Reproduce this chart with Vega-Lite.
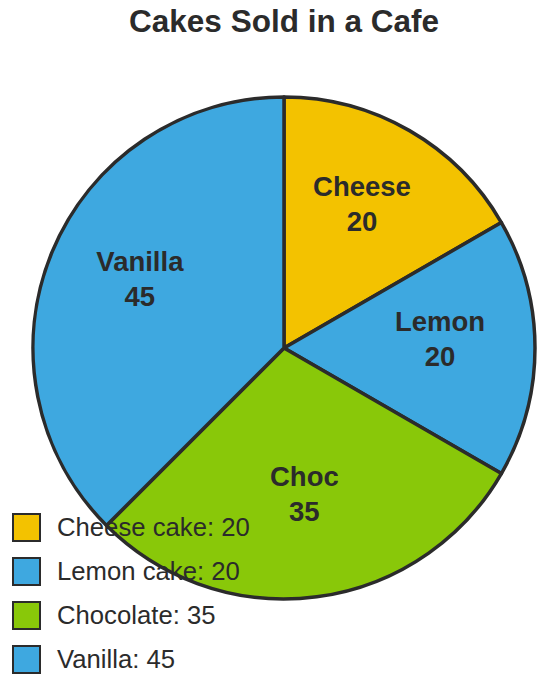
{
  "$schema": "https://vega.github.io/schema/vega-lite/v6.json",
  "autosize": "none",
  "width": 502,
  "height": 502,
  "padding": {"left": 33, "top": 97, "right": 14, "bottom": 86},
  "background": "white",
  "title": {
    "text": "Cakes Sold in a Cafe",
    "font": "Liberation Sans",
    "fontSize": 31.5,
    "fontWeight": "bold",
    "color": "#2b2b2b",
    "anchor": "middle",
    "frame": "group",
    "offset": 57
  },
  "data": {
    "values": [
      {"idx": 1, "cake": "Cheese cake: 20", "short": "Cheese", "sold": 20},
      {"idx": 2, "cake": "Lemon cake: 20", "short": "Lemon", "sold": 20},
      {"idx": 3, "cake": "Chocolate: 35", "short": "Choc", "sold": 35},
      {"idx": 4, "cake": "Vanilla: 45", "short": "Vanilla", "sold": 45}
    ]
  },
  "encoding": {
    "theta": {"field": "sold", "type": "quantitative", "stack": true},
    "order": {"field": "idx", "type": "quantitative"}
  },
  "layer": [
    {
      "mark": {"type": "arc", "stroke": "#2b2b2b", "strokeWidth": 3.5, "strokeJoin": "round"},
      "encoding": {
        "color": {
          "field": "cake",
          "type": "nominal",
          "sort": null,
          "scale": {
            "domain": ["Cheese cake: 20", "Lemon cake: 20", "Chocolate: 35", "Vanilla: 45"],
            "range": ["#F3C200", "#3EA8E0", "#89C809", "#3EA8E0"]
          },
          "legend": {
            "title": null,
            "orient": "none",
            "legendX": -21,
            "legendY": 416,
            "padding": 0,
            "symbolType": "square",
            "symbolSize": 729,
            "symbolStrokeColor": "#2b2b2b",
            "symbolStrokeWidth": 2,
            "symbolOpacity": 1,
            "labelFont": "Liberation Sans",
            "labelFontSize": 25.7,
            "labelColor": "#2b2b2b",
            "labelOffset": 16,
            "rowPadding": 9,
            "labelLimit": 400
          }
        }
      }
    },
    {
      "mark": {"type": "text", "radius": 156, "dy": -25, "font": "Liberation Sans", "fontSize": 27.5, "fontWeight": "bold", "color": "#2b2b2b"},
      "encoding": {"text": {"field": "short"}}
    },
    {
      "mark": {"type": "text", "radius": 156, "dy": 10, "font": "Liberation Sans", "fontSize": 27.5, "fontWeight": "bold", "color": "#2b2b2b"},
      "encoding": {"text": {"field": "sold", "type": "quantitative"}}
    }
  ],
  "config": {"view": {"stroke": null}}
}
